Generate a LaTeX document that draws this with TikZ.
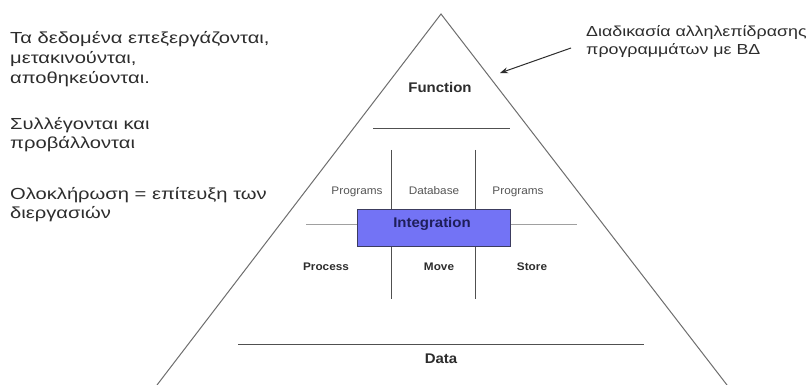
\documentclass[tikz,border=0pt]{standalone}
\usepackage{fontspec}
\setmainfont[FakeStretch=1.07]{Liberation Sans}
\newfontfamily\notefont[FakeStretch=1.26]{Liberation Sans}
\newfontfamily\sidefont[FakeStretch=1.23]{Liberation Sans}
\usetikzlibrary{arrows.meta}
\definecolor{edgegray}{RGB}{110,110,110}
\definecolor{rulegray}{RGB}{80,80,80}
\definecolor{lightrule}{RGB}{160,160,160}
\definecolor{boxfill}{RGB}{115,115,245}
\definecolor{boxline}{RGB}{60,60,95}
\definecolor{navy}{RGB}{30,30,90}
\definecolor{labelgray}{RGB}{85,85,85}
\definecolor{inkgray}{RGB}{45,45,45}
\tikzset{
  note/.style={anchor=base west, inner sep=0pt, text=inkgray, font=\notefont\fontsize{16}{20}\selectfont},
  sidenote/.style={anchor=base west, inner sep=0pt, text=inkgray, font=\sidefont\fontsize{14.5}{18}\selectfont},
  level/.style={inner sep=0pt, text height=0.72em, text depth=0.2em, text=inkgray, font=\bfseries\fontsize{14}{16}\selectfont},
  part/.style={inner sep=0pt, text height=0.72em, text depth=0.2em, text=labelgray, font=\fontsize{11}{13}\selectfont},
  action/.style={inner sep=0pt, text height=0.72em, text depth=0.2em, text=inkgray, font=\bfseries\fontsize{11}{13}\selectfont},
  edge/.style={draw=edgegray, line width=1pt},
  divider/.style={draw=rulegray, line width=1pt},
}
\begin{document}
\begin{tikzpicture}[x=1pt, y=-1pt]
\useasboundingbox (0,0) rectangle (811,385);
\fill[white] (0,0) rectangle (811,385);

% pyramid outline
\coordinate (apex) at (441,14);
\coordinate (baseL) at (157,385);
\coordinate (baseR) at (727,385);
\draw[edge] (baseL) -- (apex) -- (baseR);

% notes on the left
\node[note] (n1) at (10,44) {Τα δεδομένα επεξεργάζονται,};
\node[note] (n2) at (10,64) {μετακινούνται,};
\node[note] (n3) at (10,84) {αποθηκεύονται.};
\node[note] (n4) at (10,130) {Συλλέγονται και};
\node[note] (n5) at (10,149) {προβάλλονται};
\node[note] (n6) at (10,199) {Ολοκλήρωση = επίτευξη των};
\node[note] (n7) at (10,218) {διεργασιών};

% note on the right with its arrow
\node[sidenote] (s1) at (586,37) {Διαδικασία αλληλεπίδρασης};
\node[sidenote] (s2) at (586,55) {προγραμμάτων με ΒΔ};
\coordinate (arrTail) at (571,48);
\coordinate (arrTip) at (500,73);
\draw[line width=1pt, draw=inkgray, -{Stealth[length=8pt,width=6pt]}] (arrTail) -- (arrTip);

% top level
\node[level] (function) at (440,90) {Function};
\coordinate (fL) at (373,129);
\coordinate (fR) at (510,129);
\draw[divider] (fL) -- (fR);

% middle cross
\coordinate (hL) at (306,224);
\coordinate (hR) at (577,224);
\draw[draw=lightrule, line width=1pt] (hL) -- (hR);
\coordinate (v1t) at (391,150);
\coordinate (v1b) at (391,299);
\coordinate (v2t) at (475,150);
\coordinate (v2b) at (475,299);
\draw[divider] (v1t) -- (v1b);
\draw[divider] (v2t) -- (v2b);

\node[part] (prog1) at (357,192) {Programs};
\node[part] (db) at (434,192) {Database};
\node[part] (prog2) at (518,192) {Programs};
\node[action] (process) at (326,268) {Process};
\node[action] (move) at (439,268) {Move};
\node[action] (store) at (532,268) {Store};

\node[draw=boxline, fill=boxfill, line width=0.8pt, minimum width=153pt, minimum height=37pt, inner sep=0pt] (integ) at (433.5,227.5) {};
\node[inner sep=0pt, text height=0.72em, text depth=0.2em, text=navy, font=\bfseries\fontsize{14}{16}\selectfont] (integlabel) at (432,225) {Integration};

% bottom level
\coordinate (dL) at (238,344);
\coordinate (dR) at (644,344);
\draw[divider] (dL) -- (dR);
\node[level] (data) at (441,361) {Data};
\end{tikzpicture}
\end{document}
